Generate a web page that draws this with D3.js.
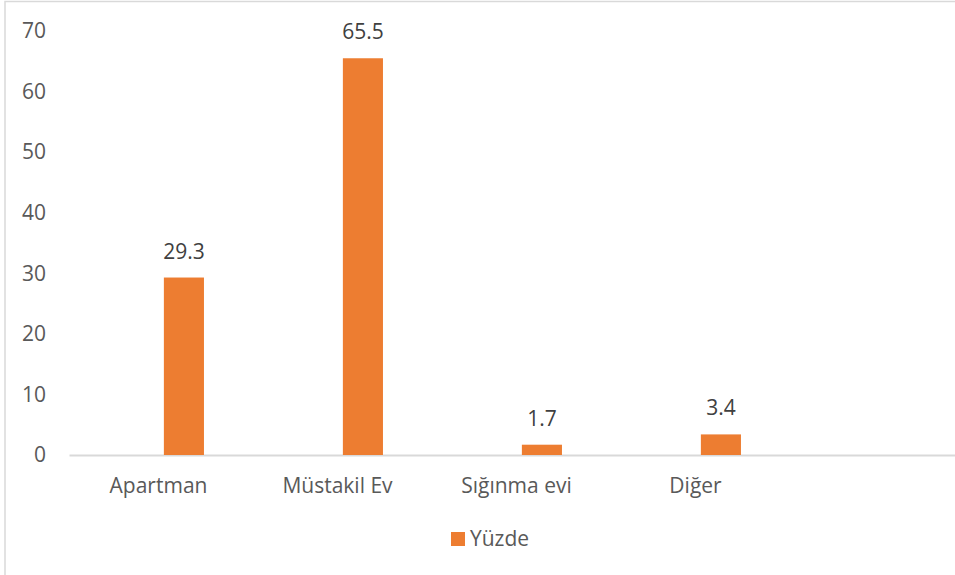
<!DOCTYPE html>
<html>
<head>
<meta charset="utf-8">
<script src="https://cdn.jsdelivr.net/npm/d3@7"></script>
<style>
  body { margin: 0; background: #fff; }
  svg { display: block; font-family: "Open Sans", sans-serif; }
</style>
</head>
<body>
<svg id="chart" width="955" height="575"></svg>
<script>
// data
const categories = ['Apartman', 'Müstakil Ev', 'Sığınma evi', 'Diğer', '']
const values = [29.3, 65.5, 1.7, 3.4, null]
const seriesName = 'Yüzde'
const yTicks = [0, 10, 20, 30, 40, 50, 60, 70]

const barColor = '#ED7D31'
const fontSize = '21px'
const svg = d3.select('#chart')

// chart frame (cropped on right/bottom like the reference)
svg.append('rect')
  .attr('x', 5).attr('y', 1.5)
  .attr('width', 1000).attr('height', 620)
  .attr('fill', '#fff')
  .attr('stroke', '#d9d9d9')
  .attr('stroke-width', 1.5)

const x = d3.scaleBand()
  .domain(categories)
  .range([69, 69 + 179 * categories.length])

const y = d3.scaleLinear()
  .domain([0, 70])
  .range([455, 31])

// y axis labels, no line, no grid
const yAxis = d3.axisLeft(y).tickValues(yTicks).tickSize(0).tickPadding(0)
const gy = svg.append('g')
  .attr('transform', 'translate(46,0)')
  .call(yAxis)
gy.select('.domain').remove()
gy.selectAll('text')
  .attr('fill', '#595959')
  .style('font-size', fontSize)
  .style('font-family', '"Open Sans", sans-serif')

// x axis
const xAxis = d3.axisBottom(x).tickSize(0).tickPadding(0)
const gx = svg.append('g')
  .attr('transform', 'translate(0,455)')
  .call(xAxis)
gx.select('.domain')
  .attr('stroke', '#d9d9d9')
  .attr('stroke-width', 2)
gx.selectAll('text')
  .attr('dy', null)
  .attr('y', 38)
  .attr('fill', '#595959')
  .style('font-size', fontSize)
  .style('font-family', '"Open Sans", sans-serif')

// bars
const rows = categories.map((c, i) => ({ cat: c, val: values[i] })).filter(d => d.val != null)
const barOff = x.bandwidth() * 0.53
const barW = x.bandwidth() * 0.224

svg.selectAll('.bar')
  .data(rows)
  .join('rect')
  .attr('class', 'bar')
  .attr('x', d => x(d.cat) + barOff)
  .attr('width', barW)
  .attr('y', d => y(d.val))
  .attr('height', d => y(0) - y(d.val))
  .attr('fill', barColor)

// data labels
svg.selectAll('.lbl')
  .data(rows)
  .join('text')
  .attr('class', 'lbl')
  .attr('x', d => x(d.cat) + barOff + barW / 2)
  .attr('y', d => y(d.val) - 19)
  .attr('text-anchor', 'middle')
  .attr('fill', '#404040')
  .style('font-size', fontSize)
  .text(d => d.val.toFixed(1))

// legend
const lg = svg.append('g').attr('transform', 'translate(451,532)')
lg.append('rect')
  .attr('width', 14).attr('height', 14)
  .attr('fill', barColor)
lg.append('text')
  .attr('x', 19).attr('y', 14)
  .attr('fill', '#595959')
  .style('font-size', fontSize)
  .text(seriesName)
</script>
</body>
</html>
